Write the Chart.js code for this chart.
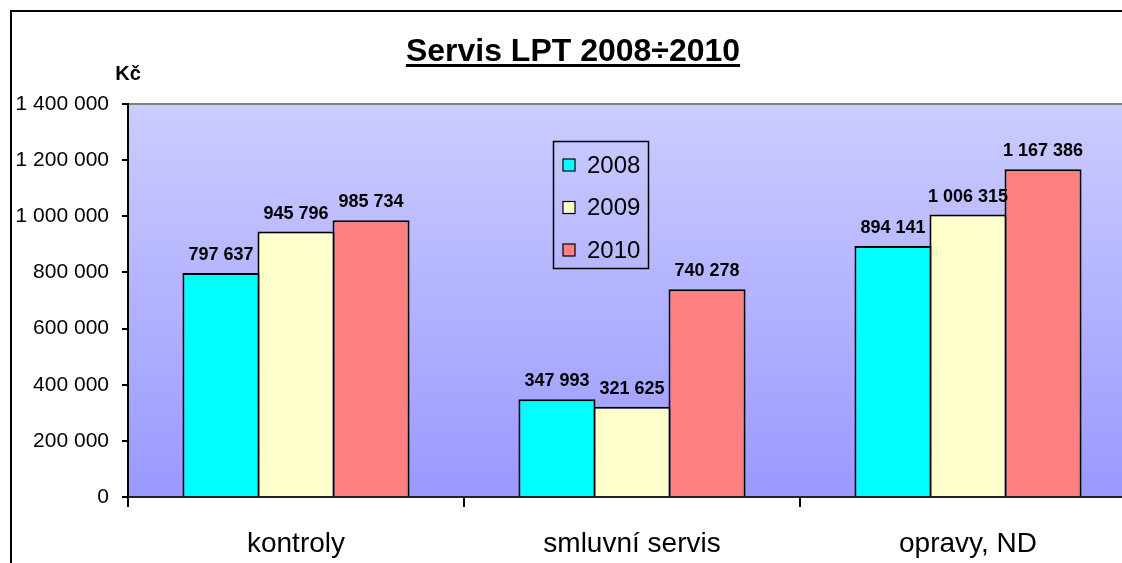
<!DOCTYPE html>
<html>
<head>
<meta charset="utf-8">
<script src="https://cdn.jsdelivr.net/npm/chart.js@4/dist/chart.umd.min.js"></script>
<style>
html,body{margin:0;padding:0;overflow:hidden;background:#fff;width:1122px;height:563px;}
canvas{display:block;}
</style>
</head>
<body>
<canvas id="c" width="1150" height="563" style="width:1150px;height:563px"></canvas>
<script>
const categories = ['kontroly', 'smluvní servis', 'opravy, ND'];
const seriesNames = ['2008', '2009', '2010'];
const values2008 = [797637, 347993, 894141];
const values2009 = [945796, 321625, 1006315];
const values2010 = [985734, 740278, 1167386];
const seriesColors = ['#00ffff', '#ffffcc', '#ff8080'];
const yMin = 0, yMax = 1400000, yStep = 200000;
const titleText = 'Servis LPT 2008÷2010';
const yUnit = 'Kč';

const FONT = "Arial, 'Liberation Sans', sans-serif";
function fmt(n){ return String(n).replace(/\B(?=(\d{3})+(?!\d))/g, ' '); }

const decor = {
  id: 'decor',
  beforeDraw(chart){
    const ctx = chart.ctx, a = chart.chartArea;
    ctx.save();
    ctx.fillStyle = '#fff';
    ctx.fillRect(0,0,chart.width,chart.height);
    const g = ctx.createLinearGradient(0,a.top,0,a.bottom);
    g.addColorStop(0,'#ccccff');
    g.addColorStop(1,'#9999ff');
    ctx.fillStyle = g;
    ctx.fillRect(a.left,a.top,a.right-a.left,a.bottom-a.top);
    ctx.strokeStyle = '#808080';
    ctx.lineWidth = 2;
    ctx.beginPath();
    ctx.moveTo(a.left,a.top);
    ctx.lineTo(a.right,a.top);
    ctx.stroke();
    ctx.strokeStyle = '#000';
    ctx.lineWidth = 2;
    ctx.beginPath();
    ctx.moveTo(11,chart.height+10);
    ctx.lineTo(11,11);
    ctx.lineTo(chart.width+10,11);
    ctx.stroke();
    ctx.restore();
  },
  afterDatasetsDraw(chart){
    const ctx = chart.ctx;
    ctx.save();
    ctx.font = 'bold 18px ' + FONT;
    ctx.fillStyle = '#000';
    ctx.textAlign = 'center';
    ctx.textBaseline = 'alphabetic';
    chart.data.datasets.forEach((ds,i)=>{
      const meta = chart.getDatasetMeta(i);
      meta.data.forEach((bar,j)=>{
        ctx.fillText(fmt(ds.data[j]), bar.x, bar.y - 13);
      });
    });
    ctx.restore();
  },
  afterDraw(chart){
    const ctx = chart.ctx;
    ctx.save();
    // title
    ctx.font = 'bold 32px ' + FONT;
    ctx.fillStyle = '#000';
    ctx.textAlign = 'center';
    ctx.textBaseline = 'alphabetic';
    const tx = 573, ty = 61;
    ctx.fillText(titleText, tx, ty);
    const w = ctx.measureText(titleText).width;
    ctx.fillRect(tx - w/2, ty + 3, w, 3);
    // unit
    ctx.font = 'bold 20px ' + FONT;
    ctx.fillText(yUnit, 128, 80);
    // legend
    ctx.strokeStyle = '#000';
    ctx.lineWidth = 1.5;
    ctx.strokeRect(553.5, 141.5, 95, 127);
    ctx.font = '24px ' + FONT;
    ctx.textAlign = 'left';
    ctx.textBaseline = 'middle';
    chart.data.datasets.forEach((ds,i)=>{
      const cy = 165 + i*42.5;
      ctx.fillStyle = ds.backgroundColor;
      ctx.fillRect(563, cy-6, 12, 12);
      ctx.lineWidth = 1.2;
      ctx.strokeRect(563, cy-6, 12, 12);
      ctx.fillStyle = '#000';
      ctx.fillText(ds.label, 587, cy+1);
    });
    ctx.restore();
  }
};

const datasets = [values2008, values2009, values2010].map((vals,i)=>({
  label: seriesNames[i],
  data: vals,
  backgroundColor: seriesColors[i],
  borderColor: '#000',
  borderWidth: 2,
  borderSkipped: 'start',
  categoryPercentage: 0.67,
  barPercentage: 1.0267
}));

new Chart(document.getElementById('c'), {
  type: 'bar',
  data: { labels: categories, datasets },
  plugins: [decor],
  options: {
    responsive: false,
    devicePixelRatio: 1,
    animation: false,
    layout: { padding: { top: 104, right: 14, left: 0, bottom: 0 } },
    plugins: { legend: { display: false }, title: { display: false }, tooltip: { enabled: false } },
    scales: {
      x: {
        afterFit(s){ s.height = 66; },
        grid: { offset: true, drawOnChartArea: false, drawTicks: true, tickLength: 10, color: '#000', lineWidth: 2 },
        border: { display: true, color: '#222', width: 2 },
        ticks: { color: '#000', font: { family: FONT, size: 28 }, padding: 20, maxRotation: 0 }
      },
      y: {
        min: yMin, max: yMax,
        afterFit(s){ s.width = 128; },
        grid: { drawOnChartArea: false, drawTicks: true, tickLength: 6, color: '#000', lineWidth: 2 },
        border: { display: true, color: '#000', width: 2 },
        ticks: { stepSize: yStep, color: '#000', font: { family: FONT, size: 21 }, padding: 13, callback: v => fmt(v) }
      }
    }
  }
});
</script>
</body>
</html>
